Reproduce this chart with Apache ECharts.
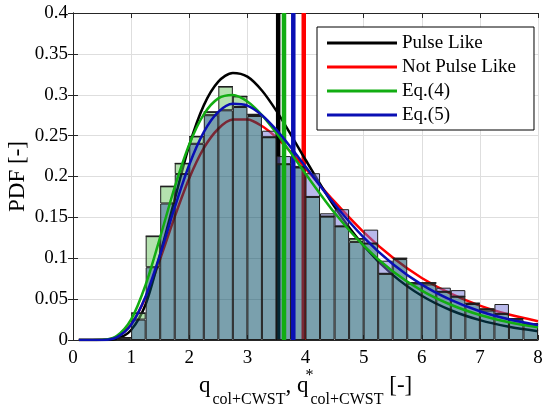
<!DOCTYPE html>
<html><head><meta charset="utf-8">
<script src="https://cdn.jsdelivr.net/npm/echarts@6/dist/echarts.min.js"></script>
<style>html,body{margin:0;padding:0;background:#fff}#c{width:547px;height:406px}</style>
</head><body><div id="c"></div>
<script>
// histogram bins (start of each 0.25-wide bin)
const binStarts = [0,0.25,0.5,0.75,1,1.25,1.5,1.75,2,2.25,2.5,2.75,3,3.25,3.5,3.75,4,4.25,4.5,4.75,5,5.25,5.5,5.75,6,6.25,6.5,6.75,7,7.25,7.5,7.75];
// histogram heights (PDF)
const histGreen = [0,0,0,0.003,0.033,0.127,0.188,0.216,0.249,0.279,0.310,0.298,0.276,0.248,0.215,0.211,0.175,0.151,0.139,0.124,0.118,0.081,0.100,0.070,0.070,0.059,0.053,0.045,0.038,0.032,0.026,0.020];
const histBlue  = [0,0,0,0.002,0.025,0.089,0.167,0.203,0.240,0.275,0.281,0.285,0.274,0.256,0.225,0.213,0.204,0.155,0.160,0.120,0.135,0.097,0.099,0.069,0.068,0.064,0.061,0.044,0.036,0.044,0.025,0.019];
// fitted PDF curves
const curveX      = [0.1,0.25,0.5,0.75,1,1.25,1.5,1.75,2,2.25,2.5,2.75,3,3.25,3.5,3.75,4,4.5,5,5.5,6,6.5,7,7.5,8];
const pdfPulse    = [0,0,0,0.0015,0.0123,0.0438,0.105,0.172,0.238,0.287,0.316,0.3267,0.3222,0.3052,0.2802,0.2510,0.2205,0.1628,0.1155,0.0797,0.0541,0.0364,0.0243,0.0162,0.0108];
const pdfNotPulse = [0,0,0.0002,0.0038,0.0193,0.0522,0.0991,0.1507,0.1978,0.2346,0.2584,0.2696,0.2698,0.2617,0.2476,0.2298,0.2099,0.1692,0.1320,0.1008,0.0758,0.0566,0.0420,0.0311,0.0230];
const pdfEq4      = [0,0,0.0002,0.0049,0.0252,0.0676,0.1259,0.1871,0.2392,0.2760,0.2956,0.2998,0.2917,0.2751,0.2532,0.2286,0.2034,0.1556,0.1154,0.0840,0.0604,0.0431,0.0306,0.0217,0.0155];
const pdfEq5      = [0,0,0.0001,0.0033,0.0187,0.0536,0.1049,0.1621,0.2143,0.2542,0.2790,0.2890,0.2867,0.2750,0.2570,0.2354,0.2121,0.1660,0.1255,0.0929,0.0677,0.0490,0.0352,0.0253,0.0182];
// mean values (vertical lines)
const meanNames  = ['Pulse Like','Not Pulse Like','Eq.(4)','Eq.(5)'];
const meanValues = [3.53, 3.97, 3.63, 3.79];
// axes ticks
const xTicks = [0,1,2,3,4,5,6,7,8];
const yTicks = [0,0.05,0.1,0.15,0.2,0.25,0.3,0.35,0.4];
// axis title pieces
const xTitleBase = 'q', xTitleSub = 'col+CWST', xTitleSep = ', ', xTitleStar = '*', xTitleUnit = ' [-]';

const FONT = 'Liberation Serif';
const cBlack = '#000000', cRed = '#ff0000', cGreen = '#12ad12', cBlue = '#0a0fb4';
const empty = (i) => histGreen[i] === 0 && histBlue[i] === 0;
const overlap = histGreen.map((g, i) => empty(i) ? '-' : Math.min(g, histBlue[i]));
const greenExtra = histGreen.map((g, i) => empty(i) ? '-' : Math.max(g - histBlue[i], 0));
const blueExtra = histGreen.map((g, i) => empty(i) ? '-' : Math.max(histBlue[i] - g, 0));
const xMin = xTicks[0], xMax = xTicks[xTicks.length - 1];
const yMin = yTicks[0], yMax = yTicks[yTicks.length - 1];

function curve(name, ys, color, z) {
  return { name, type: 'line', xAxisIndex: 0, yAxisIndex: 0, data: curveX.map((x, i) => [x, ys[i]]),
    smooth: 0.3, symbol: 'none', z, lineStyle: { color, width: 2.5 }, itemStyle: { color } };
}
function vline(idx, color, z) {
  const m = meanValues[idx];
  return { name: 'mean ' + meanNames[idx], type: 'line', xAxisIndex: 0, yAxisIndex: 0,
    data: [[m, yMin], [m, yMax]], symbol: 'none', z, lineStyle: { color, width: 4.5 }, itemStyle: { color } };
}
const barCommon = { type: 'bar', xAxisIndex: 1, yAxisIndex: 0, stack: 'h', barWidth: '100%', barCategoryGap: '0%', z: 2 };
const axisLine = { show: true, lineStyle: { color: '#262626', width: 1 } };
const tickIn = { show: true, inside: true, length: 5, lineStyle: { color: '#262626' } };

// x-axis title built from text pieces (subscript / superscript)
const mctx = document.createElement('canvas').getContext('2d');
function tw(t, size) { mctx.font = size + 'px "' + FONT + '"'; return mctx.measureText(t).width; }
const BIG = 23, SMALL = 16, yMain = 385.5, ySub = 399.5, yStar = 376;
const titleParts = [];
let cx = 199;
function put(text, size, y, dx) {
  titleParts.push({ type: 'text', x: cx + (dx || 0), y, z: 10, silent: true,
    style: { text, font: size + 'px "' + FONT + '"', fill: '#000', align: 'left', verticalAlign: 'middle',
             textAlign: 'left', textVerticalAlign: 'middle' } });
}
put(xTitleBase, BIG, yMain); cx += tw(xTitleBase, BIG) + 2;
put(xTitleSub, SMALL, ySub); cx += tw(xTitleSub, SMALL);
put(xTitleSep, BIG, yMain); cx += tw(xTitleSep, BIG);
put(xTitleBase, BIG, yMain); cx += tw(xTitleBase, BIG) + 2;
put(xTitleStar, SMALL, yStar, -5);
put(xTitleSub, SMALL, ySub); cx += tw(xTitleSub, SMALL);
put(xTitleUnit, BIG, yMain);

const chart = echarts.init(document.getElementById('c'), null, { renderer: 'canvas' });
chart.setOption({
  animation: false,
  textStyle: { fontFamily: FONT },
  grid: { left: 73, right: 9, top: 13, bottom: 66, show: false, outerBoundsMode: 'none', containLabel: false },
  legend: {
    data: meanNames, orient: 'vertical', left: 317, top: 27, icon: 'rect',
    itemWidth: 70, itemHeight: 3, itemGap: 4, padding: [6, 18, 5, 10],
    backgroundColor: '#fff', borderColor: '#000', borderWidth: 1, borderRadius: 0,
    textStyle: { fontFamily: FONT, fontSize: 19, color: '#000', lineHeight: 20 }
  },
  graphic: titleParts,
  xAxis: [
    { type: 'value', min: xMin, max: xMax, interval: 1, position: 'bottom',
      axisLine, axisTick: tickIn,
      axisLabel: { fontFamily: FONT, fontSize: 19, color: '#000', margin: 9 },
      splitLine: { show: true, lineStyle: { color: '#dedede', width: 1 } } },
    { type: 'category', data: binStarts.map(String), show: false, boundaryGap: true, position: 'bottom' },
    { type: 'value', min: xMin, max: xMax, interval: 1, position: 'top',
      axisLine, axisTick: tickIn, axisLabel: { show: false }, splitLine: { show: false } }
  ],
  yAxis: [
    { type: 'value', min: yMin, max: yMax, interval: 0.05, position: 'left',
      axisLine, axisTick: tickIn,
      axisLabel: { fontFamily: FONT, fontSize: 19, color: '#000', margin: 5 },
      splitLine: { show: true, lineStyle: { color: '#dedede', width: 1 } },
      name: 'PDF [-]', nameLocation: 'middle', nameGap: 44, nameRotate: 90, nameMoveOverlap: false,
      nameTextStyle: { fontFamily: FONT, fontSize: 23, color: '#000' } },
    { type: 'value', min: yMin, max: yMax, interval: 0.05, position: 'right',
      axisLine, axisTick: tickIn, axisLabel: { show: false }, splitLine: { show: false } }
  ],
  series: [
    vline(1, cRed, 1), curve('Not Pulse Like', pdfNotPulse, cRed, 1),
    vline(0, cBlack, 1), curve('Pulse Like', pdfPulse, cBlack, 1),
    Object.assign({ name: 'hist overlap', data: overlap,
      itemStyle: { color: 'rgba(4,75,100,0.53)', borderColor: '#1e1e1e', borderWidth: 1 } }, barCommon),
    Object.assign({ name: 'hist green', data: greenExtra,
      itemStyle: { color: 'rgba(105,195,95,0.5)', borderColor: '#1e1e1e', borderWidth: 1 } }, barCommon),
    Object.assign({ name: 'hist blue', data: blueExtra,
      itemStyle: { color: 'rgba(115,115,215,0.5)', borderColor: '#1e1e1e', borderWidth: 1 } }, barCommon),
    vline(2, cGreen, 3), vline(3, cBlue, 3),
    curve('Eq.(4)', pdfEq4, cGreen, 3), curve('Eq.(5)', pdfEq5, cBlue, 3)
  ]
});
</script></body></html>
